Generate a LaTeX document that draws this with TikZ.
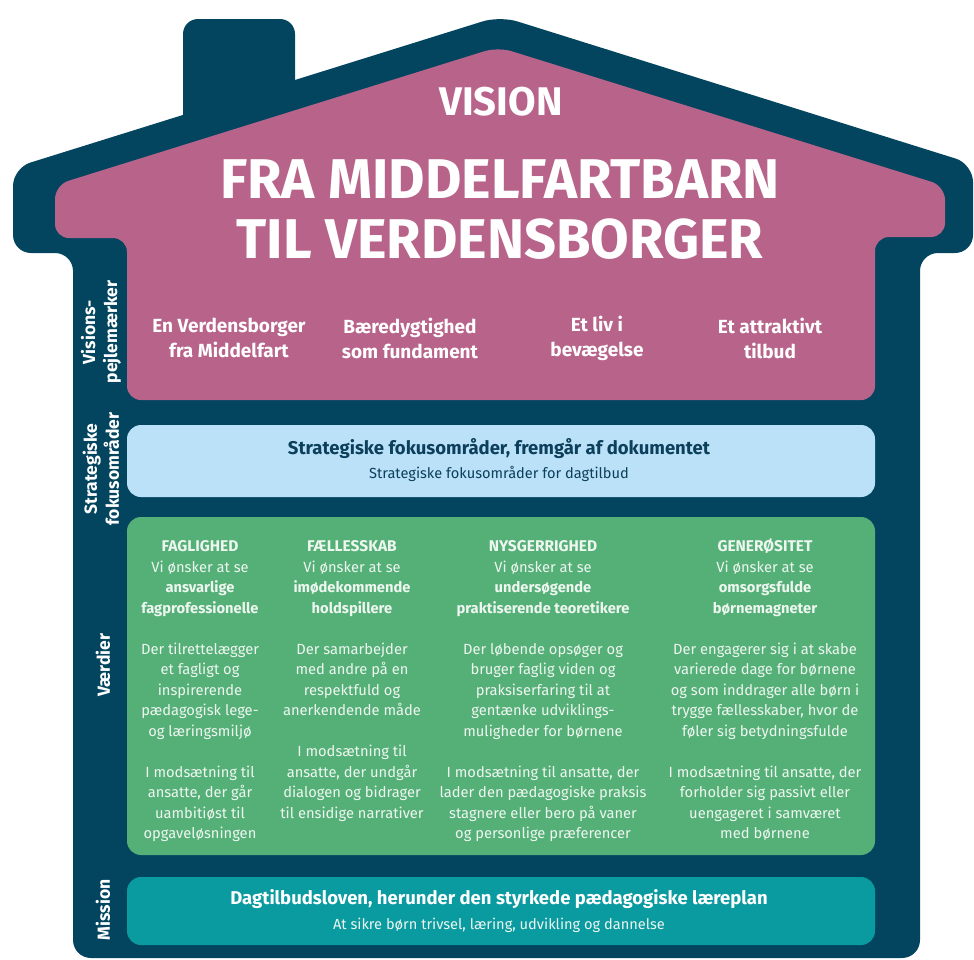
\documentclass[tikz,border=0pt]{standalone}
\usepackage{fontspec}
\setmainfont{Fira Sans}
\definecolor{navy}{HTML}{03455F}
\definecolor{roofpink}{HTML}{B8638A}
\definecolor{skyblue}{HTML}{BAE1F7}
\definecolor{leafgreen}{HTML}{55B078}
\definecolor{tealbox}{HTML}{0A9BA1}
\definecolor{darktext}{HTML}{0B3F5C}
\definecolor{softwhite}{HTML}{EEF6F0}
\newcommand{\colhead}[1]{\rule{0pt}{13pt}{\bfseries\fontsize{15.5}{20.5}\selectfont #1}}
\begin{document}
\begin{tikzpicture}[x=1pt,y=-1pt,
  band/.style={rounded corners=14pt},
  sidelabel/.style={rotate=90,text=white,font=\bfseries\fontsize{17.5}{22}\selectfont,align=center,inner sep=0pt},
  pillar/.style={text=white,font=\bfseries\fontsize{19}{25}\selectfont,align=center,inner sep=0pt},
  valuecol/.style={text=softwhite,font=\fontsize{14.7}{20.5}\selectfont,align=center,anchor=north,inner sep=0pt},
  boxtitle/.style={font=\bfseries\fontsize{18.5}{22}\selectfont,inner sep=0pt},
  boxsub/.style={font=\fontsize{14.6}{17}\selectfont,inner sep=0pt}]
\useasboundingbox (0,0) rectangle (974,959);
% house outline
\fill[navy,rounded corners=15pt] (183,140) rectangle (295,19);
\fill[navy,rounded corners=18pt] (73,958) -- (73,253) -- (13,253) -- (13,168) -- (500,16) -- (973,164) -- (973,253) -- (920,253) -- (920,958) -- cycle;
% roof (vision)
\fill[roofpink,rounded corners=14pt] (127,400) -- (127,238) -- (55,238) -- (55,185) -- (498,47) -- (945,186) -- (945,237) -- (875,237) -- (875,400) -- cycle;
% bands
\fill[skyblue,band] (127,425) rectangle (875,497);
\fill[leafgreen,band] (127,517) rectangle (875,855);
\fill[tealbox,band] (127,877) rectangle (875,945);
% roof texts
\node[text=white,font=\bfseries\fontsize{40}{44}\selectfont,inner sep=0pt] (vision) at (501,102) {VISION};
\node[text=white,font=\bfseries\fontsize{56}{60}\selectfont,align=center,inner sep=0pt] (title) at (500,210) {FRA MIDDELFARTBARN\\TIL VERDENSBORGER};
\node[pillar] (p1) at (229,338) {En Verdensborger\\fra Middelfart};
\node[pillar] (p2) at (410,338) {Bæredygtighed\\som fundament};
\node[pillar] (p3) at (597,338) {Et liv i\\bevægelse};
\node[pillar] (p4) at (770,338) {Et attraktivt\\tilbud};
% side labels
\node[sidelabel] (l1) at (101,332) {Visions-\\pejlemærker};
\node[sidelabel] (l2) at (101,469) {Strategiske\\fokusområder};
\node[sidelabel] (l3) at (103,665) {Værdier};
\node[sidelabel] (l4) at (103,910) {Mission};
% strategic band
\node[boxtitle,text=darktext] (s1) at (499,449) {Strategiske fokusområder, fremgår af dokumentet};
\node[boxsub,text=darktext] (s2) at (499,474) {Strategiske fokusområder for dagtilbud};
% values
\node[valuecol] (v1) at (200,538.5) {\colhead{FAGLIGHED}\\Vi ønsker at se\\\textbf{ansvarlige}\\\textbf{fagprofessionelle}\\[20.5pt]
Der tilrettelægger\\et fagligt og\\inspirerende\\pædagogisk lege-\\og læringsmiljø\\[20.5pt]
I modsætning til\\ansatte, der går\\uambitiøst til\\opgaveløsningen};
\node[valuecol] (v2) at (352,538.5) {\colhead{FÆLLESSKAB}\\Vi ønsker at se\\\textbf{imødekommende}\\\textbf{holdspillere}\\[20.5pt]
Der samarbejder\\med andre på en\\respektfuld og\\anerkendende måde\\[20.5pt]
I modsætning til\\ansatte, der undgår\\dialogen og bidrager\\til ensidige narrativer};
\node[valuecol] (v3) at (543,538.5) {\colhead{NYSGERRIGHED}\\Vi ønsker at se\\\textbf{undersøgende}\\\textbf{praktiserende teoretikere}\\[20.5pt]
Der løbende opsøger og\\bruger faglig viden og\\praksiserfaring til at\\gentænke udviklings-\\muligheder for børnene\\[20.5pt]
I modsætning til ansatte, der\\lader den pædagogiske praksis\\stagnere eller bero på vaner\\og personlige præferencer};
\node[valuecol] (v4) at (765,538.5) {\colhead{GENERØSITET}\\Vi ønsker at se\\\textbf{omsorgsfulde}\\\textbf{børnemagneter}\\[20.5pt]
Der engagerer sig i at skabe\\varierede dage for børnene\\og som inddrager alle børn i\\trygge fællesskaber, hvor de\\føler sig betydningsfulde\\[20.5pt]
I modsætning til ansatte, der\\forholder sig passivt eller\\uengageret i samværet\\med børnene};
% mission band
\node[boxtitle,text=white] (m1) at (499,899) {Dagtilbudsloven, herunder den styrkede pædagogiske læreplan};
\node[boxsub,text=softwhite] (m2) at (499,925) {At sikre børn trivsel, læring, udvikling og dannelse};
\end{tikzpicture}
\end{document}
